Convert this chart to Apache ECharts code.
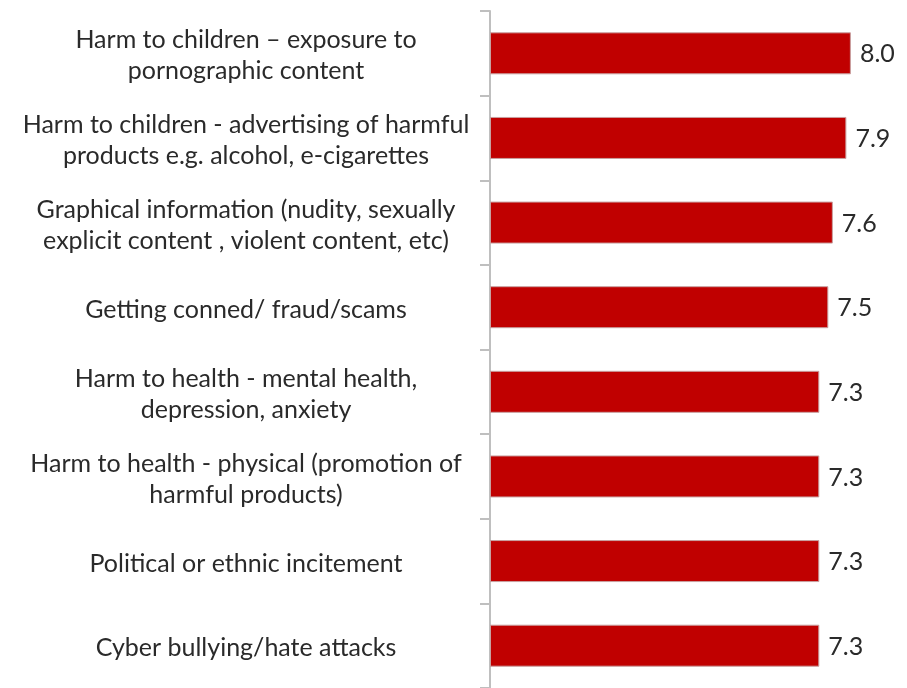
<!DOCTYPE html>
<html>
<head>
<meta charset="utf-8">
<script src="https://cdn.jsdelivr.net/npm/echarts@6/dist/echarts.min.js"></script>
<style>
  html, body { margin: 0; padding: 0; background: #ffffff; }
  #chart { width: 907px; height: 688px; }
</style>
</head>
<body>
<div id="chart"></div>
<script>
// Perceived harm categories, top to bottom
const categories = [
  'Harm to children \u2013 exposure to\npornographic content',
  'Harm to children - advertising of harmful\nproducts e.g. alcohol, e-cigarettes',
  'Graphical information (nudity, sexually\nexplicit content , violent content, etc)',
  'Getting conned/ fraud/scams',
  'Harm to health - mental health,\ndepression, anxiety',
  'Harm to health - physical (promotion of\nharmful products)',
  'Political or ethnic incitement',
  'Cyber bullying/hate attacks'
];

// Mean scores
const scores = [8.0, 7.9, 7.6, 7.5, 7.3, 7.3, 7.3, 7.3];

const FONT = 'Lato';
const TEXT_COLOR = '#2a2a2a';

const textStyle = { fontFamily: FONT, fontSize: 25, lineHeight: 31, color: TEXT_COLOR };
// A thin spacer line above each label nudges the text block slightly downward
const spacer = { fontSize: 1, lineHeight: 5 };

const chart = echarts.init(document.getElementById('chart'), null, { renderer: 'canvas' });

chart.setOption({
  animation: false,
  backgroundColor: '#ffffff',
  grid: { left: 490, right: 11, top: 11, bottom: -3, containLabel: false },
  xAxis: {
    type: 'value',
    min: 0,
    max: 9,
    show: false
  },
  yAxis: {
    type: 'category',
    data: categories,
    inverse: true,
    axisLine: { show: true, lineStyle: { color: '#BFBFBF', width: 2 } },
    axisTick: { show: true, length: 10, lineStyle: { color: '#BFBFBF', width: 2 } },
    axisLabel: {
      align: 'center',
      margin: 244,
      formatter: v => '{s| }\n' + v.split('\n').map(line => '{t|' + line + '}').join('\n'),
      rich: { t: textStyle, s: spacer }
    },
    splitLine: { show: false }
  },
  series: [{
    type: 'bar',
    data: scores,
    barWidth: 42,
    itemStyle: { color: '#C00000', borderColor: '#C8A0A0', borderWidth: 1 },
    label: {
      show: true,
      position: 'right',
      distance: 9,
      formatter: p => '{s| }\n{t|' + p.value.toFixed(1) + '}',
      rich: { t: textStyle, s: { fontSize: 1, lineHeight: 2 } }
    }
  }]
});
</script>
</body>
</html>
